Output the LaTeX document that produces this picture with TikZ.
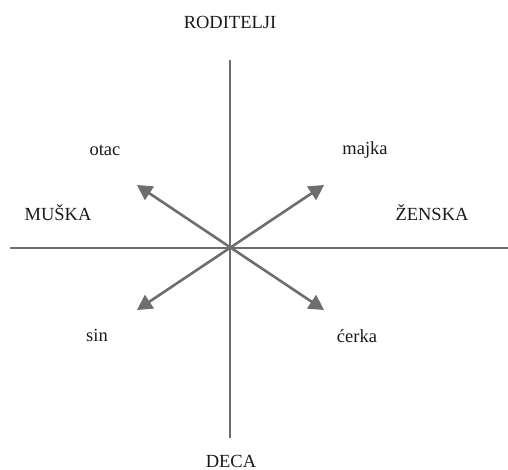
\documentclass[tikz,border=0pt]{standalone}
\usepackage{fontspec}
\setmainfont{Liberation Serif}
\usetikzlibrary{arrows.meta}
\definecolor{AxisGray}{HTML}{6E6E6E}
\definecolor{LabelBlack}{HTML}{1A1A1A}

\begin{document}
\begin{tikzpicture}[x=1pt,y=-1pt,
  axis/.style={draw=AxisGray,line width=2.6pt},
  role/.style={draw=AxisGray,line width=2.6pt,{Triangle[length=15pt,width=16pt]}-{Triangle[length=15pt,width=16pt]}},
  label/.style={text=LabelBlack,font=\fontsize{18.5}{22}\selectfont,inner sep=0pt}]
  \useasboundingbox (0,0) rectangle (508,470);
  % axes
  \coordinate (top) at (230,60);
  \coordinate (bottom) at (230,438);
  \coordinate (left) at (10,248);
  \coordinate (right) at (508,248);
  \draw[axis] (top) -- (bottom);
  \draw[axis] (left) -- (right);
  % family arrows
  \coordinate (otacend) at (137,185);
  \coordinate (majkaend) at (324,185);
  \coordinate (sinend) at (137,310);
  \coordinate (cerkaend) at (324,310);
  \draw[role] (otacend) -- (cerkaend);
  \draw[role] (majkaend) -- (sinend);
  % labels
  \node[label] (roditelji) at (230,22) {RODITELJI};
  \node[label] (deca) at (231,461) {DECA};
  \node[label] (muska) at (58,213) {MUŠKA};
  \node[label] (zenska) at (432,213) {ŽENSKA};
  \node[label] (otac) at (105,150) {otac};
  \node[label] (majka) at (365,150) {majka};
  \node[label] (sin) at (97,335) {sin};
  \node[label] (cerka) at (357,336) {ćerka};
\end{tikzpicture}
\end{document}
